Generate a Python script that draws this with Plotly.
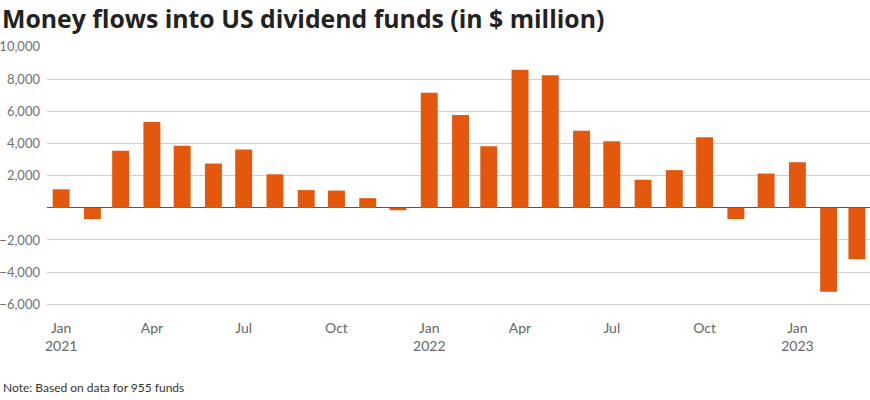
import plotly.graph_objects as go

# monthly net flows, Jan 2021 - Mar 2023 ($ million)
months = ["2021-01-01", "2021-02-01", "2021-03-01", "2021-04-01", "2021-05-01", "2021-06-01",
          "2021-07-01", "2021-08-01", "2021-09-01", "2021-10-01", "2021-11-01", "2021-12-01",
          "2022-01-01", "2022-02-01", "2022-03-01", "2022-04-01", "2022-05-01", "2022-06-01",
          "2022-07-01", "2022-08-01", "2022-09-01", "2022-10-01", "2022-11-01", "2022-12-01",
          "2023-01-01", "2023-02-01", "2023-03-01"]
flows = [1150, -700, 3550, 5330, 3850, 2750,
         3620, 2080, 1100, 1070, 600, -150,
         7150, 5770, 3820, 8570, 8230, 4790,
         4130, 1740, 2340, 4380, -700, 2130,
         2830, -5220, -3200]

tick_dates = ["2021-01-01", "2021-04-01", "2021-07-01", "2021-10-01",
              "2022-01-01", "2022-04-01", "2022-07-01", "2022-10-01", "2023-01-01"]
tick_text = ["Jan<br>2021", "Apr", "Jul", "Oct", "Jan<br>2022", "Apr", "Jul", "Oct", "Jan<br>2023"]

y_ticks = [-6000, -4000, -2000, 0, 2000, 4000, 6000, 8000, 10000]
y_text = ["\u22126,000", "\u22124,000", "\u22122,000", "", "2,000", "4,000", "6,000", "8,000", "10,000"]

FONT = "Lato"
L, T, W, H = 47, 46, 823, 260   # plot area in px

fig = go.Figure()
fig.add_trace(go.Bar(x=months, y=flows, marker=dict(color="#e4580d", line=dict(width=0)),
                     hoverinfo="x+y"))

fig.update_layout(
    width=870, height=400,
    margin=dict(l=L, r=870 - L - W, t=T, b=400 - T - H),
    paper_bgcolor="white", plot_bgcolor="white",
    bargap=0.4,
    showlegend=False,
    font=dict(family=FONT, color="#666666", size=13),
    xaxis=dict(type="date", range=["2020-12-18", "2023-03-14"],
               tickvals=tick_dates, ticktext=tick_text, automargin=False,
               showgrid=False, zeroline=False, showline=False, ticks="",
               ticklabelstandoff=12,
               tickfont=dict(size=14, color="#666666")),
    yaxis=dict(range=[-6100, 10050], tickvals=y_ticks, ticktext=y_text, automargin=False,
               showgrid=True, gridcolor="#d0d0d0", gridwidth=1,
               zeroline=True, zerolinecolor="#555555", zerolinewidth=1.2,
               ticks="", ticklabelstandoff=6,
               tickfont=dict(size=13, color="#707070")),
    annotations=[
        dict(text="<b>Money flows into US dividend funds (in $ million)</b>",
             xref="paper", yref="paper", x=-(L - 1) / W, y=1 + T / H, xanchor="left", yanchor="top",
             borderpad=0,
             showarrow=False, font=dict(family="Open Sans", size=24.8, color="#222222")),
        dict(text="Note: Based on data for 955 funds",
             xref="paper", yref="paper", x=-(L - 1) / W, y=-(387 - T - H) / H, xanchor="left", yanchor="middle",
             showarrow=False, font=dict(family=FONT, size=12, color="#333333")),
    ],
)

# page body has a default 8px margin; drop it so the figure sits at the corner
fig.write_html("out.html", config={"displayModeBar": False},
               post_script="document.body.style.margin='0';")
